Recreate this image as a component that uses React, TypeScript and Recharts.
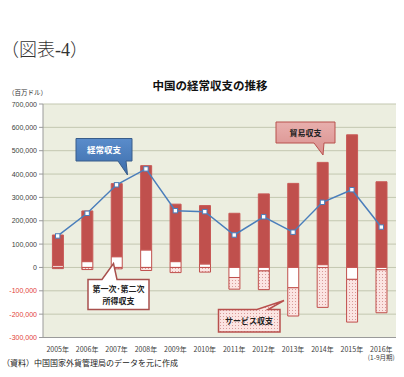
import React from 'react';
import { ComposedChart, Bar, Line, XAxis, YAxis, CartesianGrid } from 'recharts';

const years = ['2005年', '2006年', '2007年', '2008年', '2009年', '2010年', '2011年', '2012年', '2013年', '2014年', '2015年', '2016年'];
const incomeBalance = [8000, 25000, 46000, 75000, 25000, 15000, -43000, -15000, -87000, 12000, -51000, -10000];
const tradeBalance = [131000, 217000, 313000, 361000, 246000, 250000, 232000, 315000, 360000, 438000, 568000, 367000];
const servicesBalance = [-5000, -9000, -6000, -13000, -22000, -20000, -50000, -80000, -121000, -171000, -183000, -184000];
const currentAccount = [135000, 232000, 354000, 422000, 243000, 239000, 139000, 217000, 151000, 279000, 333000, 173000];
const yTicks = [-300000, -200000, -100000, 0, 100000, 200000, 300000, 400000, 500000, 600000, 700000];
const lastYearNote = '(1-9月期)';

const data = years.map((y, i) => ({
  year: y,
  income: incomeBalance[i],
  trade: tradeBalance[i],
  services: servicesBalance[i],
  ca: currentAccount[i],
}));

const JP = '"Noto Sans CJK JP", "Liberation Sans", sans-serif';
const RED = '#C0504D';
const BLUE = '#4A7EBB';

const fmt = (v: number) => v.toLocaleString('en-US');

const YTick = (props: any) => {
  const { x, y, payload } = props;
  const v = payload.value as number;
  return (
    <text x={x} y={y} dy={2.5} textAnchor="end" fontSize={7} fontFamily='"Liberation Sans", Arial, sans-serif' fill={v < 0 ? '#E2403A' : '#404040'}>
      {fmt(v)}
    </text>
  );
};

const XTick = (props: any) => {
  const { x, y, payload } = props;
  const isLast = payload.value === years[years.length - 1];
  return (
    <g>
      <text x={x} y={y + 6} textAnchor="middle" fontSize={7} fontFamily={JP} fill="#404040">
        {payload.value}
      </text>
      {isLast && (
        <text x={x} y={y + 14.5} textAnchor="middle" fontSize={6.5} fontFamily={JP} fill="#404040">
          {lastYearNote}
        </text>
      )}
    </g>
  );
};

const SquareDot = (props: any) => {
  const { cx, cy, index } = props;
  if (cx == null || cy == null) return null;
  return <rect key={`d${index}`} x={cx - 2.2} y={cy - 2.2} width={4.4} height={4.4} fill="#fff" stroke={BLUE} strokeWidth={1} />;
};

export default function App() {
  return (
    <div style={{ position: 'absolute', left: 0, top: 0, width: 404, height: 377, background: '#fff', overflow: 'hidden' }}>
      <svg width={0} height={0} style={{ position: 'absolute' }}>
        <defs>
          <pattern id="dots" width="3" height="3" patternUnits="userSpaceOnUse">
            <rect width="3" height="3" fill="#FBE4E2" />
            <rect x="1" y="1" width="1" height="1" fill="#D89A98" />
          </pattern>
          <linearGradient id="blueGrad" x1="0" y1="0" x2="0" y2="1">
            <stop offset="0" stopColor="#5A8CCB" />
            <stop offset="1" stopColor="#3C6DAA" />
          </linearGradient>
          <linearGradient id="pinkGrad" x1="0" y1="0" x2="0" y2="1">
            <stop offset="0" stopColor="#E8AFAD" />
            <stop offset="1" stopColor="#D98F8D" />
          </linearGradient>
        </defs>
      </svg>

      <div style={{ position: 'absolute', left: 1, top: 35, fontFamily: '"Liberation Serif", "Noto Sans CJK JP", serif', fontSize: 18, color: '#333', whiteSpace: 'nowrap', fontWeight: 300 }}>
        （図表-4）
      </div>
      <div style={{ position: 'absolute', left: 0, width: 420, top: 77, textAlign: 'center', fontFamily: JP, fontSize: 11.5, fontWeight: 700, color: '#111', whiteSpace: 'nowrap' }}>
        中国の経常収支の推移
      </div>
      <div style={{ position: 'absolute', left: 8, top: 88, fontFamily: JP, fontSize: 6.5, lineHeight: '9px', color: '#333', whiteSpace: 'nowrap' }}>
        （百万ドル）
      </div>
      <div style={{ position: 'absolute', left: 2, top: 357, fontFamily: JP, fontSize: 8, color: '#222', whiteSpace: 'nowrap' }}>
        （資料）中国国家外貨管理局のデータを元に作成
      </div>

      <div style={{ position: 'absolute', left: 0, top: 0 }}>
        <ComposedChart
          width={404}
          height={377}
          data={data}
          stackOffset="sign"
          barCategoryGap="32%"
          margin={{ top: 104, right: 8, bottom: 20, left: 0 }}
        >
          <CartesianGrid vertical={false} stroke="#C3C7B0" strokeWidth={1} fill="#ECEEE0" fillOpacity={1} />
          <XAxis dataKey="year" height={19.5} axisLine={{ stroke: '#9A9A9A' }} tickLine={false} tick={<XTick />} interval={0} />
          <YAxis
            domain={[-300000, 700000]}
            ticks={yTicks}
            width={43}
            axisLine={{ stroke: '#9A9A9A' }}
            tickLine={{ stroke: '#9A9A9A' }}
            tickSize={4}
            tickMargin={2}
            tick={<YTick />}
            interval={0}
          />
          <YAxis yAxisId="r" orientation="right" width={0} domain={[-300000, 700000]} axisLine={{ stroke: '#B0B0B0' }} tick={false} tickLine={false} />
          <Bar dataKey="income" stackId="a" fill="#FFFFFF" stroke={RED} strokeWidth={1} isAnimationActive={false} />
          <Bar dataKey="trade" stackId="a" fill={RED} stroke="#C85A57" strokeWidth={1} isAnimationActive={false} />
          <Bar dataKey="services" stackId="a" fill="url(#dots)" stroke={RED} strokeWidth={1} isAnimationActive={false} />
          <Line dataKey="ca" type="linear" stroke={BLUE} strokeWidth={1.5} dot={<SquareDot />} activeDot={false} isAnimationActive={false} />
        </ComposedChart>
      </div>

      <svg width={404} height={377} style={{ position: 'absolute', left: 0, top: 0, pointerEvents: 'none' }}>
        <path d="M76,138.5 H132 V161 H126 L127.5,175 L118,161 H76 Z" fill="url(#blueGrad)" stroke="#385D8A" strokeWidth={1} />
        <text x={104} y={153} textAnchor="middle" fontFamily={JP} fontSize={8.5} fontWeight={700} fill="#fff">経常収支</text>

        <path d="M276,122 H335 V143 H324 L323,155 L314,143 H276 Z" fill="url(#pinkGrad)" stroke="#B8504D" strokeWidth={1} />
        <text x={305.5} y={135.5} textAnchor="middle" fontFamily={JP} fontSize={8} fontWeight={700} fill="#222">貿易収支</text>

        <path d="M88,279.5 H102 L113.5,263.5 L117,279.5 H149 V309.5 H88 Z" fill="#fff" stroke="#A8504D" strokeWidth={1.5} />
        <text x={118.5} y={292} textAnchor="middle" fontFamily={JP} fontSize={8} fontWeight={700} fill="#222">第一次･第二次</text>
        <text x={118.5} y={303.5} textAnchor="middle" fontFamily={JP} fontSize={8} fontWeight={700} fill="#222">所得収支</text>

        <path d="M218.5,309.5 H257 L284,300.5 L268,309.5 H280 V332 H218.5 Z" fill="url(#dots)" stroke="#B8504D" strokeWidth={1.5} />
        <text x={249} y={324} textAnchor="middle" fontFamily={JP} fontSize={8} fontWeight={700} fill="#222">サービス収支</text>
      </svg>
    </div>
  );
}
